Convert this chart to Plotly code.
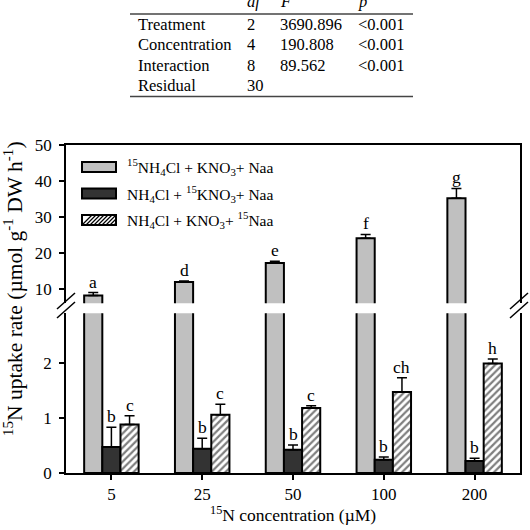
import plotly.graph_objects as go

# ---------------- data ----------------
concentrations = ["5", "25", "50", "100", "200"]
nh4_15 = [8.05, 11.8, 17.1, 24.0, 35.2]
nh4_15_err = [0.85, 0.3, 0.5, 1.1, 2.7]
kno3_15 = [0.47, 0.44, 0.42, 0.24, 0.22]
kno3_15_err = [0.36, 0.19, 0.09, 0.05, 0.05]
naa_15 = [0.88, 1.06, 1.18, 1.47, 1.99]
naa_15_err = [0.16, 0.19, 0.04, 0.26, 0.08]
letters_nh4 = ["a", "d", "e", "f", "g"]
letters_kno3 = ["b", "b", "b", "b", "b"]
letters_naa = ["c", "c", "c", "ch", "h"]

series_names = [
    "<sup>15</sup>NH<sub>4</sub>Cl + KNO<sub>3</sub>+ Naa",
    "NH<sub>4</sub>Cl + <sup>15</sup>KNO<sub>3</sub>+ Naa",
    "NH<sub>4</sub>Cl + KNO<sub>3</sub>+ <sup>15</sup>Naa",
]

anova_terms = ["Treatment", "Concentration", "Interaction", "Residual"]
anova_df = ["2", "4", "8", "30"]
anova_F = ["3690.896", "190.808", "89.562", ""]
anova_p = ["<0.001", "<0.001", "<0.001", ""]

# ---------------- layout constants ----------------
W, H = 530, 530
ML, MR, MT, MB = 66, 10, 145, 57
PW, PH = W - ML - MR, H - MT - MB
FONT = "Liberation Serif"

def px(x):
    return (x - ML) / PW

def py(y):
    return (H - MB - y) / PH

xs = list(range(len(concentrations)))
BW = 0.2
GRAY = "#c0c0c0"
DARK = "#333333"

fig = go.Figure()

err_style = dict(type="data", symmetric=False, arrayminus=[0] * 5,
                 color="black", thickness=1.5, width=5)

# gray bars in both panels
for xa, ya in (("x", "y"), ("x2", "y2")):
    fig.add_trace(go.Bar(
        x=xs, y=nh4_15, width=BW, offset=-0.3, xaxis=xa, yaxis=ya,
        marker=dict(color=GRAY, line=dict(color="black", width=2)),
        error_y=dict(array=nh4_15_err, **err_style), showlegend=False,
    ))

fig.add_trace(go.Bar(
    x=xs, y=kno3_15, width=BW, offset=-0.1, xaxis="x", yaxis="y",
    marker=dict(color=DARK, line=dict(color="black", width=2)),
    error_y=dict(array=kno3_15_err, **err_style), showlegend=False,
))
fig.add_trace(go.Bar(
    x=xs, y=naa_15, width=BW, offset=0.1, xaxis="x", yaxis="y",
    marker=dict(color="white", line=dict(color="black", width=2),
                pattern=dict(shape="/", fgcolor="black", bgcolor="white",
                             size=5, solidity=0.45)),
    error_y=dict(array=naa_15_err, **err_style), showlegend=False,
))

LET_FONT = dict(family=FONT, size=17.5, color="black")
annotations = []
# significance letters
for i in xs:
    annotations.append(dict(x=i - 0.2, y=nh4_15[i] + nh4_15_err[i], xref="x2", yref="y2",
                            text=letters_nh4[i], showarrow=False, yanchor="bottom",
                            yshift=-1, font=LET_FONT))
    annotations.append(dict(x=i, y=kno3_15[i] + kno3_15_err[i], xref="x", yref="y",
                            text=letters_kno3[i], showarrow=False, yanchor="bottom",
                            yshift=-1, font=LET_FONT))
    annotations.append(dict(x=i + 0.2, y=naa_15[i] + naa_15_err[i], xref="x", yref="y",
                            text=letters_naa[i], showarrow=False, yanchor="bottom",
                            yshift=-1, font=LET_FONT))

shapes = []
# custom legend
leg_rows = [167, 193.5, 220]
for k, (name, yy) in enumerate(zip(series_names, leg_rows)):
    fill = [GRAY, DARK, "white"][k]
    shapes.append(dict(type="rect", xref="paper", yref="paper",
                       x0=px(82), x1=px(116), y0=py(yy - 5), y1=py(yy + 5),
                       fillcolor=fill, line=dict(color="black", width=2)))
    if k == 2:
        for hx in range(82, 118, 4):
            x0, x1 = hx, hx + 10
            y0, y1 = yy + 5, yy - 5
            if x1 > 116:
                y1 = yy + 5 - (116 - x0)
                x1 = 116
            if x0 < 116:
                shapes.append(dict(type="line", xref="paper", yref="paper",
                                   x0=px(x0), x1=px(x1), y0=py(y0), y1=py(y1),
                                   line=dict(color="black", width=1.3)))
    annotations.append(dict(x=px(125), y=py(yy), xref="paper", yref="paper",
                            text=name, showarrow=False, xanchor="left", yanchor="middle",
                            font=dict(family=FONT, size=15.5, color="black")))

# axis break marks
for bx in (66, 519):
    for dy in (0, 9):
        shapes.append(dict(type="line", xref="paper", yref="paper",
                           x0=px(bx - 9), y0=py(313 + dy - 4), x1=px(bx + 9), y1=py(297 + dy - 4),
                           line=dict(color="black", width=1.5)))

# ANOVA table
TBL_FONT = dict(family=FONT, size=16.5, color="black")
tbl_cols = [136, 245, 278, 356]
for txt, xx in zip(["", "df", "F", "p"], tbl_cols):
    if txt:
        annotations.append(dict(x=px(xx), y=py(1.5), xref="paper", yref="paper",
                                text="<i>" + txt + "</i>", showarrow=False,
                                xanchor="left", yanchor="middle", font=TBL_FONT))
row_y = [24, 44.5, 65, 85.5]
for r, yy in enumerate(row_y):
    for txt, xx in zip([anova_terms[r], anova_df[r], anova_F[r], anova_p[r]], tbl_cols):
        if txt:
            annotations.append(dict(x=px(xx), y=py(yy), xref="paper", yref="paper",
                                    text=txt.replace("<", "&lt;"), showarrow=False,
                                    xanchor="left", yanchor="middle", font=TBL_FONT))
for ly in (14, 96.5):
    shapes.append(dict(type="line", xref="paper", yref="paper",
                       x0=px(130), x1=px(413), y0=py(ly), y1=py(ly),
                       line=dict(color="#444444", width=1.5)))

# axis titles
annotations.append(dict(x=px(13), y=py(289), xref="paper", yref="paper",
                        text="<sup>15</sup>N uptake rate (µmol g<sup>-1</sup> DW h<sup>-1</sup>)",
                        showarrow=False, textangle=-90, xanchor="center", yanchor="middle",
                        font=dict(family=FONT, size=21.5, color="black")))
annotations.append(dict(x=px(293), y=py(514), xref="paper", yref="paper",
                        text="<sup>15</sup>N concentration (µM)",
                        showarrow=False, xanchor="center", yanchor="middle",
                        font=dict(family=FONT, size=17.5, color="black")))

split_lo = (H - MB - 313.3) / PH
split_hi = (H - MB - 303.3) / PH

axis_common = dict(showgrid=False, zeroline=False, linecolor="black", linewidth=1.5,
                   automargin=False,
                   tickfont=dict(family=FONT, size=17, color="black"))

fig.update_layout(
    width=W, height=H,
    margin=dict(l=ML, r=MR, t=MT, b=MB, autoexpand=False),
    paper_bgcolor="white", plot_bgcolor="white",
    showlegend=False,
    xaxis=dict(range=[-0.5, 4.5], tickvals=xs, ticktext=concentrations,
               showline=True, ticks="outside", ticklen=5, tickwidth=1.5, tickcolor="black",
               ticklabelstandoff=0,
               anchor="y", domain=[0, 1], **axis_common),
    yaxis=dict(range=[0, 2.9], domain=[0, split_lo], tickvals=[0, 1, 2],
               showline=True, mirror=True, ticks="outside", ticklen=5, tickwidth=1.5,
               tickcolor="black", ticklabelstandoff=4, anchor="x", **axis_common),
    xaxis2=dict(range=[-0.5, 4.5], anchor="y2", side="top", showline=True,
                showticklabels=False, ticks="", **axis_common),
    yaxis2=dict(range=[5.9, 50], domain=[split_hi, 1], tickvals=[10, 20, 30, 40, 50],
                showline=True, mirror=True, ticks="outside", ticklen=5, tickwidth=1.5,
                tickcolor="black", ticklabelstandoff=4, anchor="x2", **axis_common),
    annotations=annotations,
    shapes=shapes,
)

fig.write_html("out.html",
               config={"displayModeBar": False},
               post_script="document.body.style.margin='0';document.body.style.padding='0';")
